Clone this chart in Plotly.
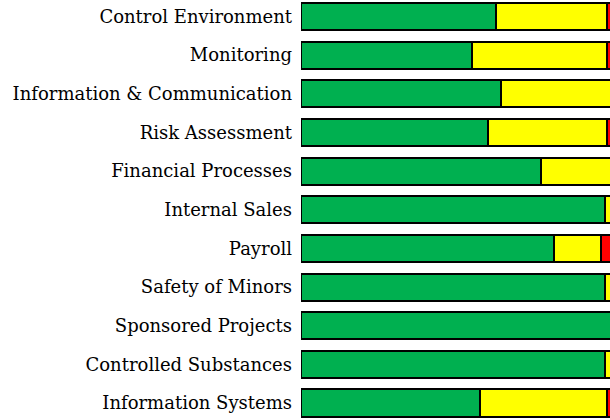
import plotly.graph_objects as go

# Audit areas, top to bottom
categories = [
    "Control Environment",
    "Monitoring",
    "Information & Communication",
    "Risk Assessment",
    "Financial Processes",
    "Internal Sales",
    "Payroll",
    "Safety of Minors",
    "Sponsored Projects",
    "Controlled Substances",
    "Information Systems",
]

# Share of results per rating (percent)
green = [62.9, 55.2, 64.4, 60.3, 77.3, 97.9, 81.5, 97.9, 100.0, 97.9, 57.6]
yellow = [35.5, 43.2, 35.6, 38.1, 22.7, 2.1, 15.2, 2.1, 0.0, 2.1, 40.8]
red = [1.6, 1.6, 0.0, 1.6, 0.0, 0.0, 3.3, 0.0, 0.0, 0.0, 1.6]

series = [
    ("Green", green, "#00B050"),
    ("Yellow", yellow, "#FFFF00"),
    ("Red", red, "#FF0000"),
]

fig = go.Figure()
for name, vals, color in series:
    fig.add_trace(go.Bar(
        y=categories,
        x=vals,
        name=name,
        orientation="h",
        width=0.7,
        marker=dict(color=color, line=dict(color="#000000", width=2)),
    ))

fig.update_layout(
    barmode="stack",
    width=610,
    height=420,
    margin=dict(l=301, r=0, t=0, b=0),
    paper_bgcolor="white",
    plot_bgcolor="white",
    showlegend=False,
    font=dict(family="DejaVu Serif", size=18, color="#000000"),
    xaxis=dict(range=[0, 99.5], visible=False, showgrid=False, zeroline=False),
    yaxis=dict(
        categoryorder="array",
        categoryarray=categories,
        range=[10.44, -0.427],
        showgrid=False,
        zeroline=False,
        showline=False,
        ticks="",
        ticklabelstandoff=8,
        tickfont=dict(family="DejaVu Serif", size=18, color="#000000"),
    ),
)

fig.write_html("out.html")
